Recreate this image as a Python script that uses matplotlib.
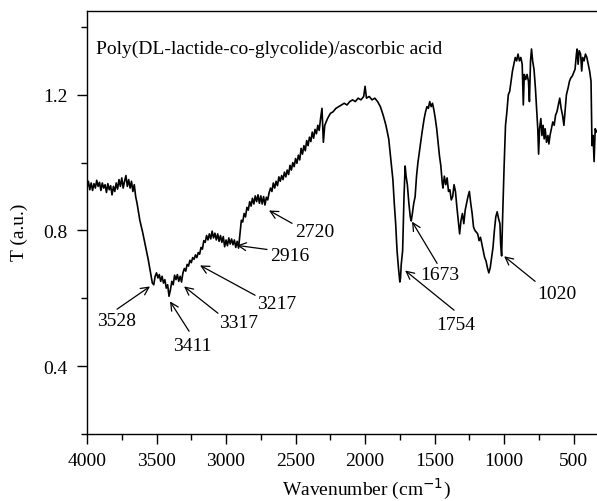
import matplotlib
matplotlib.use("Agg")
import matplotlib.pyplot as plt
from matplotlib.ticker import MultipleLocator

plt.rcParams['font.family'] = ['Liberation Serif', 'DejaVu Serif']

# Spectrum (wavenumber, transmittance)
wavenumber = [
    4000, 3990, 3980, 3970, 3960, 3950, 3940, 3930, 3920, 3910, 3900, 3890, 3880, 3870, 3860, 3850, 3840, 3830,
    3820, 3810, 3800, 3790, 3780, 3770, 3760, 3750, 3740, 3730, 3720, 3710, 3700, 3690, 3680, 3670, 3660, 3650,
    3640, 3620, 3600, 3580, 3560, 3545, 3530, 3520, 3510, 3500, 3490, 3480, 3470, 3460, 3450, 3440, 3430, 3420,
    3410, 3400, 3390, 3380, 3370, 3360, 3350, 3340, 3330, 3320, 3310, 3300, 3290, 3280, 3270, 3260, 3250, 3240,
    3230, 3220, 3210, 3200, 3190, 3180, 3170, 3160, 3150, 3140, 3130, 3120, 3110, 3100, 3090, 3080, 3070, 3060,
    3050, 3040, 3030, 3020, 3010, 3000, 2990, 2980, 2970, 2960, 2950, 2940, 2930, 2920, 2910, 2900, 2890, 2880,
    2870, 2860, 2850, 2840, 2830, 2820, 2810, 2800, 2790, 2780, 2770, 2760, 2750, 2740, 2730, 2720, 2710, 2700,
    2690, 2680, 2670, 2660, 2650, 2640, 2630, 2620, 2610, 2600, 2590, 2580, 2570, 2560, 2550, 2540, 2530, 2520,
    2510, 2500, 2490, 2480, 2470, 2460, 2450, 2440, 2430, 2420, 2410, 2400, 2390, 2380, 2370, 2360, 2350, 2340,
    2330, 2320, 2310, 2300, 2290, 2270, 2250, 2230, 2210, 2190, 2170, 2150, 2130, 2110, 2090, 2070, 2050, 2030,
    2010, 2000, 1990, 1970, 1950, 1930, 1910, 1890, 1870, 1850, 1830, 1815, 1800, 1790, 1780, 1770, 1760, 1750,
    1745, 1740, 1730, 1720, 1712, 1705, 1696, 1685, 1675, 1668, 1660, 1650, 1640, 1630, 1620, 1605, 1590, 1575,
    1565, 1555, 1545, 1535, 1525, 1515, 1505, 1495, 1485, 1475, 1465, 1455, 1445, 1440, 1430, 1420, 1410, 1400,
    1390, 1380, 1370, 1360, 1350, 1340, 1330, 1320, 1310, 1300, 1290, 1280, 1270, 1260, 1250, 1240, 1230, 1220,
    1210, 1200, 1190, 1180, 1170, 1160, 1150, 1140, 1130, 1120, 1110, 1100, 1090, 1080, 1070, 1060, 1050, 1040,
    1030, 1025, 1018, 1010, 1000, 990, 980, 970, 960, 950, 940, 930, 920, 910, 900, 890, 880, 870,
    862, 855, 845, 835, 825, 818, 810, 803, 795, 785, 775, 765, 758, 752, 745, 736, 728, 720,
    712, 705, 695, 685, 678, 670, 660, 650, 640, 630, 620, 610, 600, 590, 580, 570, 562, 552,
    540, 530, 520, 510, 500, 490, 480, 475, 468, 460, 450, 442, 435, 425, 415, 405, 395, 385,
    375, 368, 360, 353, 345, 338, 330,
]
transmittance = [
    0.925, 0.945, 0.920, 0.940, 0.918, 0.938, 0.925, 0.948, 0.930, 0.942, 0.918, 0.940, 0.925, 0.935, 0.912, 0.938, 0.920, 0.932,
    0.905, 0.930, 0.915, 0.940, 0.922, 0.950, 0.930, 0.955, 0.925, 0.945, 0.962, 0.930, 0.950, 0.925, 0.945, 0.915, 0.935, 0.900,
    0.880, 0.830, 0.795, 0.755, 0.715, 0.680, 0.645, 0.640, 0.665, 0.675, 0.660, 0.670, 0.650, 0.665, 0.645, 0.655, 0.630, 0.640,
    0.606, 0.625, 0.650, 0.640, 0.668, 0.655, 0.670, 0.650, 0.665, 0.648, 0.675, 0.688, 0.680, 0.700, 0.695, 0.712, 0.705, 0.720,
    0.715, 0.728, 0.720, 0.735, 0.730, 0.750, 0.745, 0.770, 0.765, 0.785, 0.772, 0.790, 0.775, 0.798, 0.778, 0.792, 0.772, 0.790,
    0.768, 0.785, 0.765, 0.782, 0.752, 0.772, 0.755, 0.778, 0.760, 0.775, 0.758, 0.772, 0.750, 0.768, 0.748, 0.790, 0.830, 0.825,
    0.850, 0.840, 0.868, 0.860, 0.885, 0.872, 0.895, 0.878, 0.902, 0.885, 0.905, 0.880, 0.902, 0.878, 0.900, 0.875, 0.898, 0.890,
    0.912, 0.925, 0.915, 0.940, 0.925, 0.945, 0.932, 0.958, 0.945, 0.962, 0.950, 0.972, 0.958, 0.978, 0.965, 0.992, 0.978, 1.000,
    0.988, 1.012, 0.998, 1.022, 1.008, 1.042, 1.025, 1.050, 1.035, 1.065, 1.050, 1.075, 1.062, 1.090, 1.072, 1.098, 1.085, 1.110,
    1.095, 1.130, 1.160, 1.060, 1.110, 1.130, 1.145, 1.150, 1.160, 1.165, 1.170, 1.175, 1.170, 1.180, 1.185, 1.180, 1.190, 1.185,
    1.195, 1.225, 1.190, 1.195, 1.185, 1.190, 1.180, 1.165, 1.140, 1.110, 1.070, 1.010, 0.950, 0.880, 0.820, 0.740, 0.690, 0.648,
    0.660, 0.700, 0.740, 0.900, 0.990, 0.960, 0.935, 0.880, 0.840, 0.828, 0.850, 0.880, 0.900, 0.960, 1.000, 1.045, 1.090, 1.130,
    1.150, 1.165, 1.160, 1.180, 1.165, 1.175, 1.155, 1.130, 1.100, 1.060, 1.020, 0.990, 0.940, 0.925, 0.960, 0.935, 0.955, 0.915,
    0.920, 0.890, 0.900, 0.935, 0.915, 0.870, 0.830, 0.790, 0.830, 0.850, 0.820, 0.860, 0.880, 0.900, 0.915, 0.880, 0.850, 0.810,
    0.800, 0.795, 0.790, 0.770, 0.780, 0.760, 0.740, 0.720, 0.710, 0.690, 0.675, 0.690, 0.720, 0.750, 0.800, 0.840, 0.855, 0.835,
    0.820, 0.760, 0.725, 0.850, 0.990, 1.110, 1.150, 1.200, 1.210, 1.240, 1.270, 1.290, 1.310, 1.300, 1.320, 1.300, 1.310, 1.290,
    1.170, 1.260, 1.245, 1.260, 1.240, 1.180, 1.300, 1.335, 1.300, 1.275, 1.220, 1.150, 1.100, 1.025, 1.100, 1.130, 1.080, 1.110,
    1.070, 1.100, 1.060, 1.080, 1.055, 1.080, 1.100, 1.120, 1.110, 1.140, 1.150, 1.170, 1.190, 1.160, 1.140, 1.110, 1.150, 1.200,
    1.220, 1.240, 1.250, 1.255, 1.265, 1.275, 1.320, 1.335, 1.290, 1.330, 1.320, 1.270, 1.310, 1.300, 1.320, 1.310, 1.290, 1.270,
    1.240, 1.050, 1.080, 1.003, 1.100, 1.090, 1.095,
]

title_text = "Poly(DL-lactide-co-glycolide)/ascorbic acid"

# peak labels: label, arrow head (x, y), arrow tail (x, y), text centre (x, y)
peak_labels = ["3528", "3411", "3317", "3217", "2916", "2720", "1754", "1673", "1020"]
peak_heads = [(3547, 0.635), (3403, 0.591), (3302, 0.635), (3187, 0.697), (2921, 0.756),
              (2691, 0.859), (1712, 0.682), (1662, 0.826), (1000, 0.724)]
peak_tails = [(3784, 0.568), (3266, 0.503), (3058, 0.556), (2791, 0.609), (2705, 0.744),
              (2525, 0.821), (1360, 0.565), (1482, 0.703), (777, 0.650)]
peak_texts = [(3784, 0.535), (3245, 0.462), (2907, 0.529), (2633, 0.585), (2540, 0.726),
              (2360, 0.797), (1345, 0.524), (1460, 0.671), (619, 0.615)]

x_ticks = [4000, 3500, 3000, 2500, 2000, 1500, 1000, 500]
y_ticks = [0.4, 0.8, 1.2]

fig = plt.figure(figsize=(5.97, 5.02), dpi=100)
ax = fig.add_axes([87 / 597, 1 - 435 / 502, 1 - 87 / 597, (435 - 12) / 502])

ax.plot(wavenumber, transmittance, color='black', lw=1.2)

ax.set_xlim(4000, 332)
ax.set_ylim(0.2, 1.447)
ax.set_xticks(x_ticks)
ax.set_yticks(y_ticks)
ax.set_yticklabels([f"{v:.1f}" for v in y_ticks])
ax.xaxis.set_minor_locator(MultipleLocator(250))
ax.yaxis.set_minor_locator(MultipleLocator(0.2))
ax.tick_params(which='major', direction='out', length=7, width=1.0, labelsize=14, pad=6)
ax.tick_params(which='minor', direction='out', length=4, width=1.0)
ax.tick_params(axis='y', which='major', pad=7)

ax.spines['right'].set_visible(False)
for s in ['left', 'top', 'bottom']:
    ax.spines[s].set_linewidth(1.0)

ax.set_xlabel("Wavenumber (cm$^{-1}$)", fontsize=14)
ax.set_ylabel("T (a.u.)", fontsize=14)
ax.xaxis.set_label_coords((366 - 87) / (597 - 87), -0.100)
ax.yaxis.set_label_coords(-(87 - 28) / (597 - 87), (435 - 232) / 423)

ax.text(3935, 1.338, title_text, fontsize=14, ha='left', va='center')

for lab, head, tail, tpos in zip(peak_labels, peak_heads, peak_tails, peak_texts):
    ax.annotate("", xy=head, xytext=tail,
                arrowprops=dict(arrowstyle='->', color='black', lw=0.9,
                                shrinkA=0, shrinkB=0, mutation_scale=14))
    ax.text(tpos[0], tpos[1], lab, fontsize=14, ha='center', va='center')

fig.savefig("out.png", dpi=100)
